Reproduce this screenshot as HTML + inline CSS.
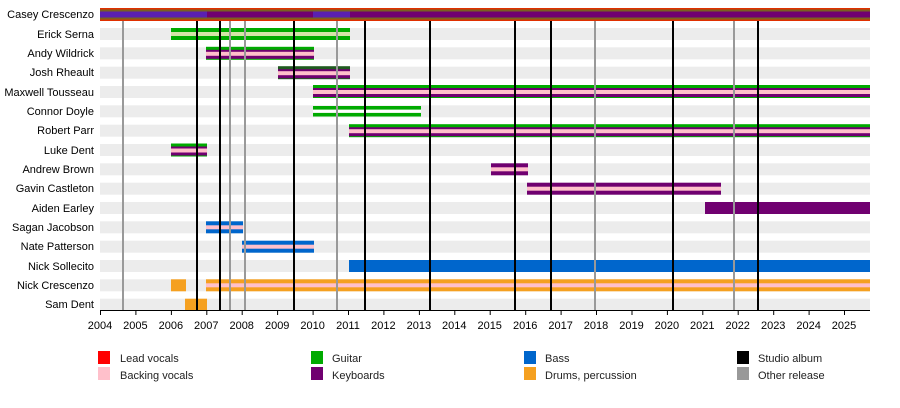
<!DOCTYPE html>
<html><head><meta charset="utf-8"><style>
html,body{margin:0;padding:0;background:#fff}
svg{display:block;font-family:"Liberation Sans",sans-serif;font-size:11px}
</style></head><body>
<svg width="900" height="408" viewBox="0 0 900 408" xmlns="http://www.w3.org/2000/svg">
<g fill="#ececec">
<rect x="100" y="28" width="770" height="12"/><rect x="100" y="47.3" width="770" height="12"/><rect x="100" y="66.7" width="770" height="12"/><rect x="100" y="86" width="770" height="12"/><rect x="100" y="105.3" width="770" height="12"/><rect x="100" y="124.7" width="770" height="12"/><rect x="100" y="144" width="770" height="12"/><rect x="100" y="163.3" width="770" height="12"/><rect x="100" y="182.7" width="770" height="12"/><rect x="100" y="202" width="770" height="12"/><rect x="100" y="221.3" width="770" height="12"/><rect x="100" y="240.7" width="770" height="12"/><rect x="100" y="260" width="770" height="12"/><rect x="100" y="279.3" width="770" height="12"/><rect x="100" y="298.7" width="770" height="12"/>
</g>
<!-- Casey -->
<rect x="100" y="8" width="770" height="13" fill="#e03000"/>
<rect x="100" y="9.5" width="770" height="10" fill="#7a6020"/>
<rect x="100" y="11.5" width="770" height="6" fill="#700070"/>
<rect x="100" y="11.5" width="107" height="6" fill="#5a20b0"/>
<rect x="313" y="11.5" width="37" height="6" fill="#5a20b0"/>
<!-- Erick -->
<rect x="171" y="28" width="179" height="12" fill="#00aa00"/><rect x="171" y="32" width="179" height="4" fill="#d4e4a8"/>
<!-- green/purple/pink -->
<g>
<rect x="206" y="46.8" width="108" height="13" fill="#00aa00"/><rect x="206" y="49.8" width="108" height="9" fill="#700070"/><rect x="206" y="51.8" width="108" height="4" fill="#ffc0cb"/>
<rect x="278" y="66.2" width="72" height="13" fill="#205a20"/><rect x="278" y="69.2" width="72" height="9" fill="#700070"/><rect x="278" y="71.2" width="72" height="4" fill="#ffc0cb"/>
<rect x="313" y="85" width="557" height="13" fill="#00aa00"/><rect x="313" y="88" width="557" height="9" fill="#700070"/><rect x="313" y="90" width="557" height="4" fill="#ffc0cb"/>
<rect x="313" y="106" width="108" height="10.5" fill="#00aa00"/><rect x="313" y="109.6" width="108" height="3.3" fill="#fff"/>
<rect x="349" y="124.2" width="521" height="13" fill="#00aa00"/><rect x="349" y="127.2" width="521" height="9" fill="#700070"/><rect x="349" y="129.2" width="521" height="4" fill="#ffc0cb"/>
<rect x="171" y="143.5" width="36" height="13" fill="#00aa00"/><rect x="171" y="146.5" width="36" height="9" fill="#700070"/><rect x="171" y="148.5" width="36" height="4" fill="#ffc0cb"/>
</g>
<rect x="491" y="163.3" width="37" height="12" fill="#700070"/><rect x="491" y="167.3" width="37" height="4" fill="#ffc0cb"/>
<rect x="527" y="182.7" width="194" height="12" fill="#700070"/><rect x="527" y="186.7" width="194" height="4" fill="#ffc0cb"/>
<rect x="705" y="202" width="165" height="12" fill="#700070"/>
<rect x="206" y="221.3" width="37" height="12" fill="#0066cc"/><rect x="206" y="225.3" width="37" height="4" fill="#ffc0cb"/>
<rect x="242" y="240.7" width="72" height="12" fill="#0066cc"/><rect x="242" y="244.7" width="72" height="4" fill="#ffc0cb"/>
<rect x="349" y="260" width="521" height="12" fill="#0066cc"/>
<rect x="171" y="279.3" width="15" height="12" fill="#f5a020"/>
<rect x="206" y="279.3" width="664" height="12" fill="#f5a020"/><rect x="206" y="283.3" width="664" height="4" fill="#ffc0cb"/>
<rect x="185" y="298.7" width="22" height="12" fill="#f5a020"/>
<!-- vertical lines -->
<g stroke="#999" stroke-width="2">
<line x1="123" y1="21" x2="123" y2="310"/><line x1="230" y1="21" x2="230" y2="310"/><line x1="245" y1="21" x2="245" y2="310"/><line x1="337" y1="21" x2="337" y2="310"/><line x1="595" y1="21" x2="595" y2="310"/><line x1="734" y1="21" x2="734" y2="310"/>
</g>
<g stroke="#000" stroke-width="2">
<line x1="197" y1="21" x2="197" y2="310"/><line x1="220" y1="21" x2="220" y2="310"/><line x1="294" y1="21" x2="294" y2="310"/><line x1="365" y1="21" x2="365" y2="310"/><line x1="430" y1="21" x2="430" y2="310"/><line x1="515" y1="21" x2="515" y2="310"/><line x1="551" y1="21" x2="551" y2="310"/><line x1="673" y1="21" x2="673" y2="310"/><line x1="758" y1="21" x2="758" y2="310"/>
</g>
<!-- axis -->
<line x1="100" y1="310.5" x2="870" y2="310.5" stroke="#000"/>
<g stroke="#000">
<line x1="100.5" y1="310" x2="100.5" y2="315"/><line x1="135.9" y1="310" x2="135.9" y2="315"/><line x1="171.4" y1="310" x2="171.4" y2="315"/><line x1="206.8" y1="310" x2="206.8" y2="315"/><line x1="242.2" y1="310" x2="242.2" y2="315"/><line x1="277.6" y1="310" x2="277.6" y2="315"/><line x1="313.1" y1="310" x2="313.1" y2="315"/><line x1="348.5" y1="310" x2="348.5" y2="315"/><line x1="383.9" y1="310" x2="383.9" y2="315"/><line x1="419.4" y1="310" x2="419.4" y2="315"/><line x1="454.8" y1="310" x2="454.8" y2="315"/><line x1="490.2" y1="310" x2="490.2" y2="315"/><line x1="525.7" y1="310" x2="525.7" y2="315"/><line x1="561.1" y1="310" x2="561.1" y2="315"/><line x1="596.5" y1="310" x2="596.5" y2="315"/><line x1="632" y1="310" x2="632" y2="315"/><line x1="667.4" y1="310" x2="667.4" y2="315"/><line x1="702.8" y1="310" x2="702.8" y2="315"/><line x1="738.2" y1="310" x2="738.2" y2="315"/><line x1="773.7" y1="310" x2="773.7" y2="315"/><line x1="809.1" y1="310" x2="809.1" y2="315"/><line x1="844.5" y1="310" x2="844.5" y2="315"/>
</g>
<g text-anchor="middle" fill="#000">
<text x="100" y="329">2004</text><text x="135.4" y="329">2005</text><text x="170.9" y="329">2006</text><text x="206.3" y="329">2007</text><text x="241.7" y="329">2008</text><text x="277.2" y="329">2009</text><text x="312.6" y="329">2010</text><text x="348" y="329">2011</text><text x="383.4" y="329">2012</text><text x="418.9" y="329">2013</text><text x="454.3" y="329">2014</text><text x="489.7" y="329">2015</text><text x="525.2" y="329">2016</text><text x="560.6" y="329">2017</text><text x="596" y="329">2018</text><text x="631.5" y="329">2019</text><text x="666.9" y="329">2020</text><text x="702.3" y="329">2021</text><text x="737.7" y="329">2022</text><text x="773.2" y="329">2023</text><text x="808.6" y="329">2024</text><text x="844" y="329">2025</text>
</g>
<g text-anchor="end" fill="#000">
<text x="94" y="18">Casey Crescenzo</text><text x="94" y="38">Erick Serna</text><text x="94" y="57">Andy Wildrick</text><text x="94" y="76">Josh Rheault</text><text x="94" y="96">Maxwell Tousseau</text><text x="94" y="115">Connor Doyle</text><text x="94" y="134">Robert Parr</text><text x="94" y="154">Luke Dent</text><text x="94" y="173">Andrew Brown</text><text x="94" y="192">Gavin Castleton</text><text x="94" y="212">Aiden Earley</text><text x="94" y="231">Sagan Jacobson</text><text x="94" y="250">Nate Patterson</text><text x="94" y="270">Nick Sollecito</text><text x="94" y="289">Nick Crescenzo</text><text x="94" y="308">Sam Dent</text>
</g>
<!-- legend -->
<rect x="98" y="351" width="12" height="13" fill="#ff0000"/><rect x="98" y="367" width="12" height="13" fill="#ffc0cb"/>
<rect x="311" y="351" width="12" height="13" fill="#00aa00"/><rect x="311" y="367" width="12" height="13" fill="#700070"/>
<rect x="524" y="351" width="12" height="13" fill="#0066cc"/><rect x="524" y="367" width="12" height="13" fill="#f5a020"/>
<rect x="737" y="351" width="12" height="13" fill="#000"/><rect x="737" y="367" width="12" height="13" fill="#999"/>
<g fill="#222">
<text x="120" y="362">Lead vocals</text><text x="120" y="379">Backing vocals</text>
<text x="332" y="362">Guitar</text><text x="332" y="379">Keyboards</text>
<text x="545" y="362">Bass</text><text x="545" y="379">Drums, percussion</text>
<text x="758" y="362">Studio album</text><text x="758" y="379">Other release</text>
</g>
</svg>
</body></html>
